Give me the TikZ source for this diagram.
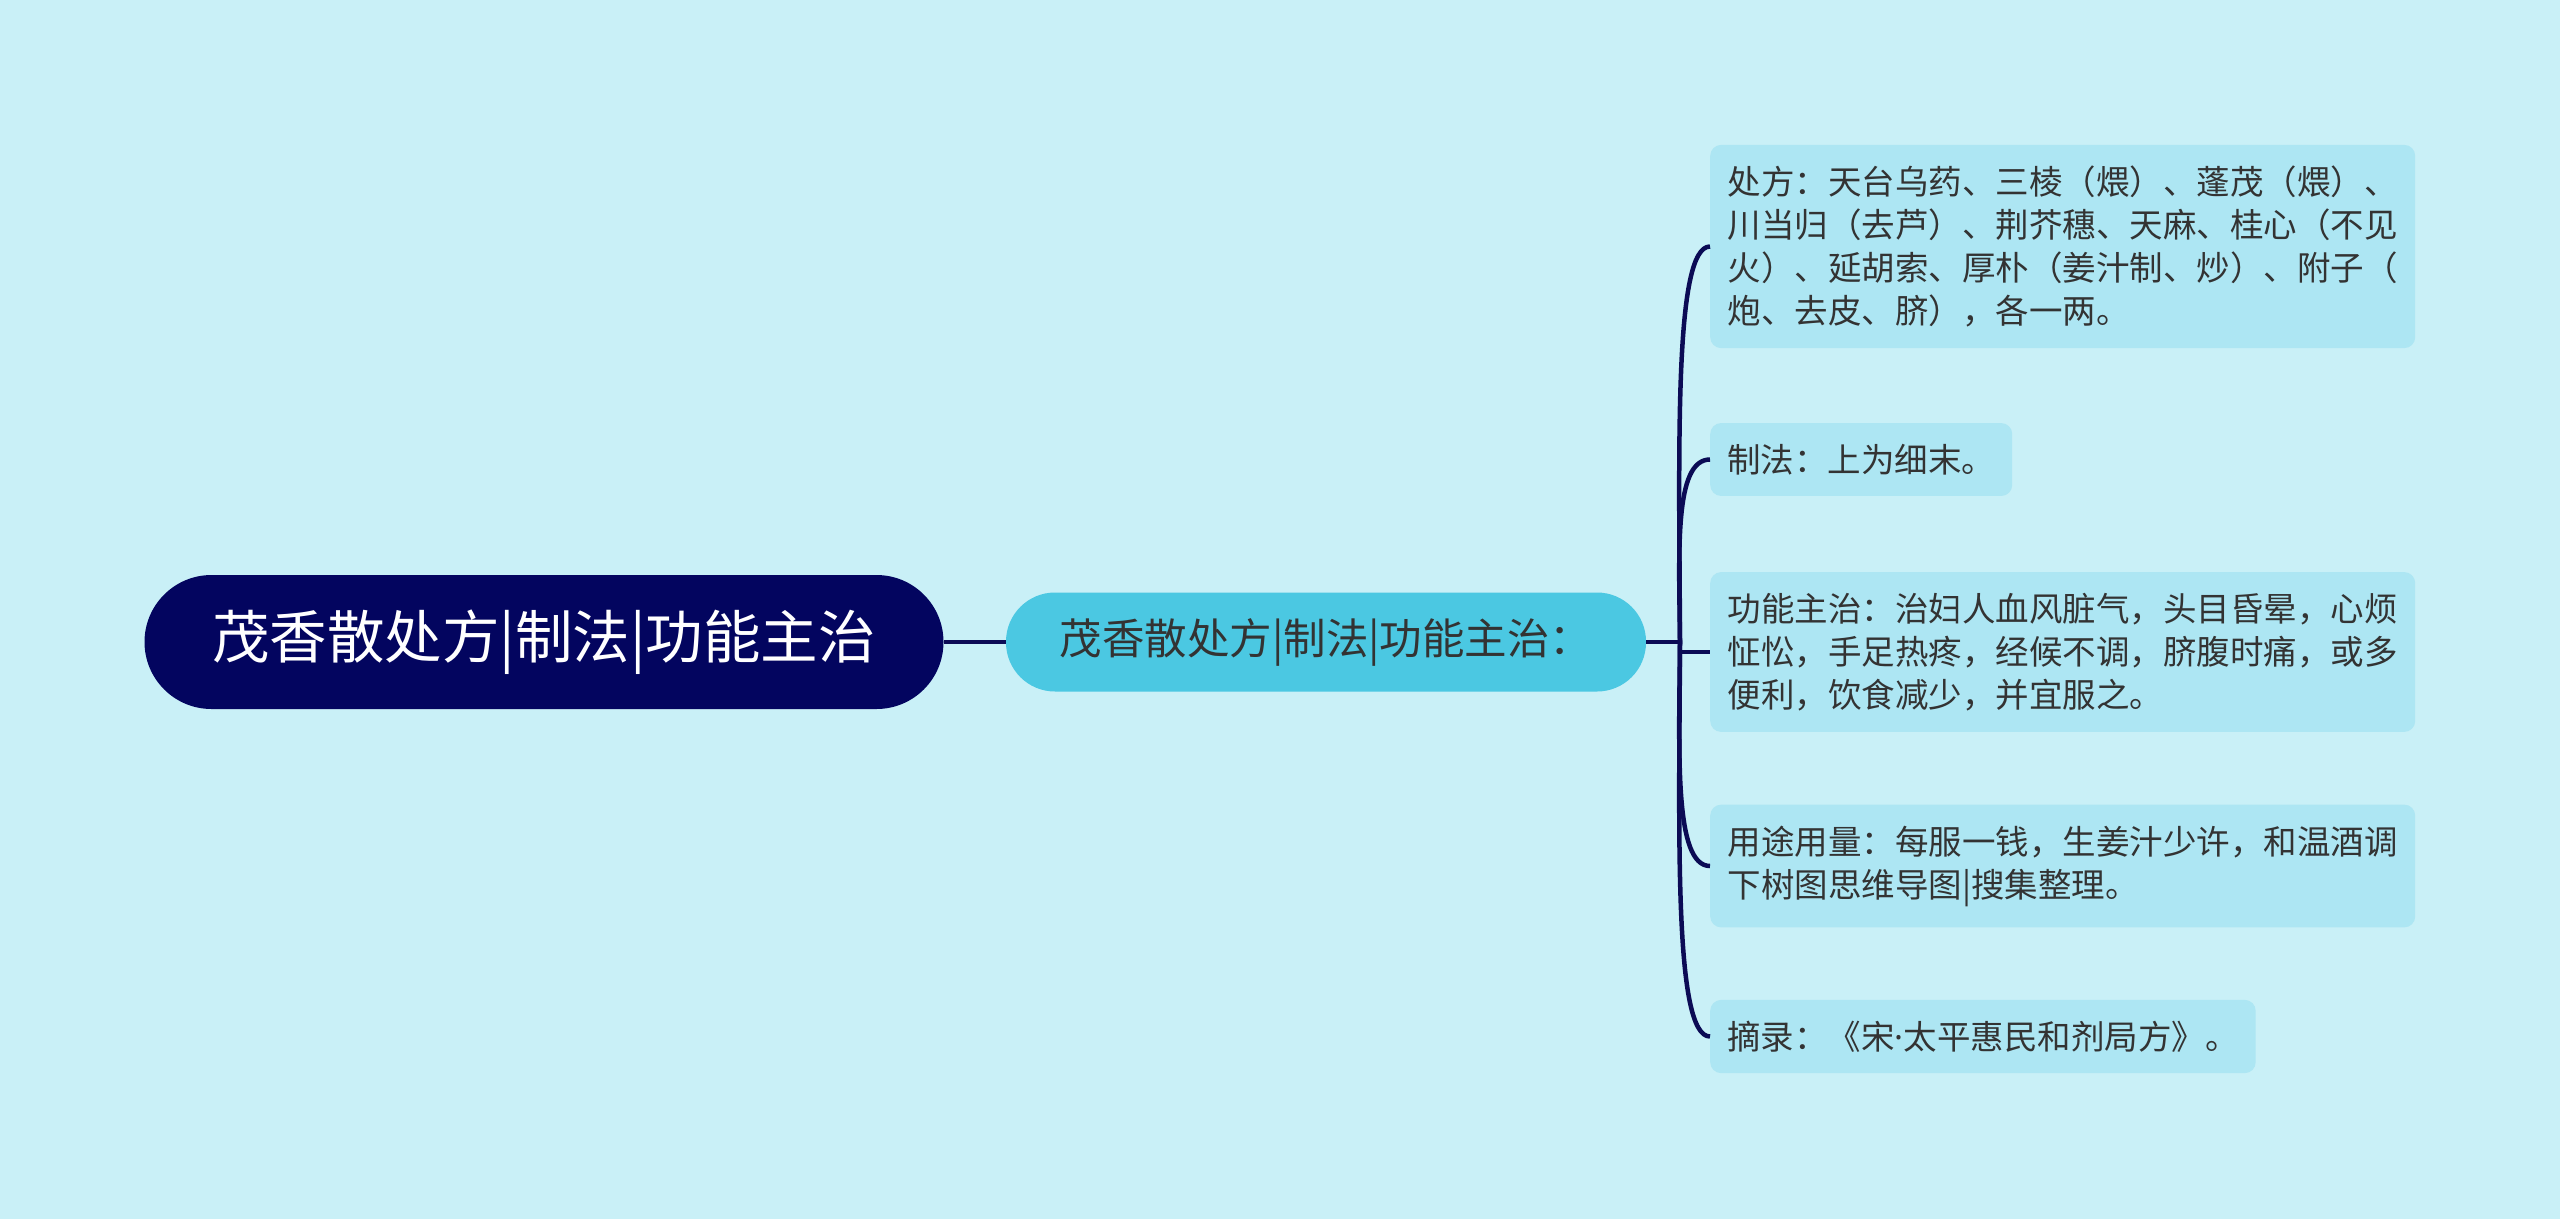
\documentclass[tikz,border=0pt]{standalone}
\usepackage{fontspec}
\setmainfont{Noto Sans CJK SC}
\newfontfamily\dotfont{Noto Sans}
\definecolor{bgcol}{HTML}{C9F0F7}
\definecolor{rootcol}{HTML}{03055F}
\definecolor{midcol}{HTML}{4BC8E2}
\definecolor{leafcol}{HTML}{ADE6F3}
\definecolor{linecol}{HTML}{0B0B55}
\definecolor{txtcol}{HTML}{333333}
\begin{document}
\begin{tikzpicture}[x=1pt,y=-1pt,
	rootbox/.style={fill=rootcol,text=white,rounded corners=67pt,minimum width=799pt,minimum height=134pt,inner sep=0pt,font=\fontsize{57.5}{66}\selectfont},
	midbox/.style={fill=midcol,text=txtcol,rounded corners=49pt,minimum width=640pt,minimum height=99pt,inner sep=0pt,font=\fontsize{42.5}{50}\selectfont},
	leafbox/.style={fill=leafcol,text=txtcol,rounded corners=11pt,anchor=west,align=left,inner xsep=17pt,inner ysep=21pt,font=\fontsize{33.5}{43}\selectfont},
	link/.style={draw=linecol,line width=4.5pt}]
			\fill [bgcol] (0,0) rectangle (2560,1219);
			\useasboundingbox (0,0) rectangle (2560,1219);
			\node [rootbox] (root) at (544,642) {茂香散处方|制法|功能主治};
			\node [midbox] (mid) at (1326,642) {茂香散处方|制法|功能主治：};
			\node [leafbox,minimum width=705pt] (recipe) at (1710,246.5) {处方：天台乌药、三棱（煨）、蓬茂（煨）、\\川当归（去芦）、荆芥穗、天麻、桂心（不见\\火）、延胡索、厚朴（姜汁制、炒）、附子（\\炮、去皮、脐），各一两。};
			\node [leafbox] (method) at (1710,459.5) {制法：上为细末。};
			\node [leafbox,minimum width=705pt] (usage) at (1710,652) {功能主治：治妇人血风脏气，头目昏晕，心烦\\怔忪，手足热疼，经候不调，脐腹时痛，或多\\便利，饮食减少，并宜服之。};
			\node [leafbox,minimum width=705pt] (dose) at (1710,866) {用途用量：每服一钱，生姜汁少许，和温酒调\\下树图思维导图|搜集整理。};
			\node [leafbox] (source) at (1710,1036.5) {摘录：《宋{\dotfont ·}太平惠民和剂局方》。};
			\draw [link] (root.east) -- (mid.west);
			\draw [link] (mid.east) -- (1680,642) coordinate (fork);
			\foreach \leaf/\ly in {recipe/246.5,method/459.5,dose/866,source/1036.5}
				\draw [link] (fork) .. controls (1679,{(642+\ly)/2}) and (1674,\ly) .. (\leaf.west);
			\draw [link] (1680,652) -- (usage.west);
			\end{tikzpicture}
\end{document}
